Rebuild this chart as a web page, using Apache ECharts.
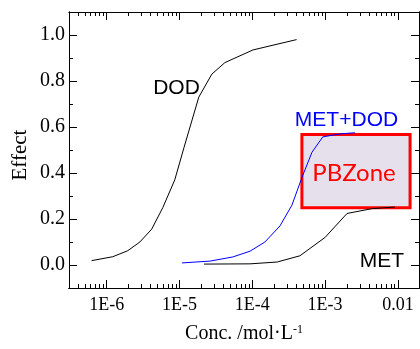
<!DOCTYPE html>
<html><head><meta charset="utf-8">
<script src="https://cdn.jsdelivr.net/npm/echarts@6/dist/echarts.min.js"></script>
<style>html,body{margin:0;padding:0;background:#fff}#c{width:420px;height:349px}</style>
</head><body><div id="c"></div>
<script>
// ---- data (concentration in mol/L, effect) ----
const dodConc   = [6.2e-7, 1.21e-6, 1.94e-6, 2.85e-6, 4.15e-6, 5.9e-6, 8.6e-6, 1.15e-5, 1.84e-5, 2.78e-5, 4.2e-5, 1.02e-4, 4.06e-4];
const dodEffect = [0.019, 0.036, 0.062, 0.10, 0.156, 0.25, 0.37, 0.51, 0.73, 0.83, 0.88, 0.935, 0.98];
const mixConc   = [1.08e-5, 2.63e-5, 5.4e-5, 9.3e-5, 1.49e-4, 2.4e-4, 3.5e-4, 4.8e-4, 6.6e-4, 9.3e-4, 1.6e-3, 2.57e-3];
const mixEffect = [0.009, 0.017, 0.035, 0.06, 0.10, 0.17, 0.26, 0.38, 0.49, 0.557, 0.57, 0.575];
const metConc   = [2.17e-5, 9.3e-5, 2.2e-4, 4.5e-4, 1.0e-3, 2.0e-3, 4.4e-3, 9.1e-3];
const metEffect = [0.004, 0.005, 0.013, 0.04, 0.12, 0.224, 0.245, 0.252];
const pbzoneConc   = [4.8e-4, 0.0147];
const pbzoneEffect = [0.249, 0.567];
// ---- axes ----
const xMin = 3.03e-7, xMax = 0.0195;
const xTickExps   = [-6, -5, -4, -3, -2];
const xTickLabels = ['1E-6', '1E-5', '1E-4', '1E-3', '0.01'];
const yMajor = [0, 0.2, 0.4, 0.6, 0.8, 1.0];
const yTickLabels = ['0.0', '0.2', '0.4', '0.6', '0.8', '1.0'];
const yMinor = [0.1, 0.3, 0.5, 0.7, 0.9];

const lxMin = Math.log10(xMin), lxMax = Math.log10(xMax);
const xMinor = [];
for (let n = -7; n <= -2; n++) for (let k = 2; k <= 9; k++) {
  const v = n + Math.log10(k);
  if (v > lxMin && v < lxMax) xMinor.push(v);
}
const zip = (a, b) => a.map((v, i) => [v, b[i]]);
const serif = '"Liberation Serif","Times New Roman",serif';
const sans = '"Liberation Sans",Arial,sans-serif';
const lineC = '#000';

function tickX(pos, vals, len) {
  return {
    type: 'value', min: lxMin, max: lxMax, position: pos, gridIndex: 0,
    axisLine: {show: true, onZero: false, lineStyle: {color: lineC, width: 1}},
    axisTick: {show: true, inside: true, length: len, customValues: vals, lineStyle: {color: lineC}},
    axisLabel: {show: false}, splitLine: {show: false}
  };
}
function tickY(pos, vals, len) {
  return {
    type: 'value', min: -0.1, max: 1.1, position: pos, gridIndex: 0,
    axisLine: {show: true, onZero: false, lineStyle: {color: lineC, width: 1}},
    axisTick: {show: true, inside: true, length: len, customValues: vals, lineStyle: {color: lineC}},
    axisLabel: {show: false}, splitLine: {show: false}
  };
}

const chart = echarts.init(document.getElementById('c'), null, {renderer: 'canvas'});
chart.setOption({
  animation: false,
  backgroundColor: '#fff',
  textStyle: {fontFamily: serif, color: '#000'},
  grid: {left: 69, top: 12, right: 1, bottom: 61, containLabel: false},
  xAxis: [
    {type: 'log', logBase: 10, min: xMin, max: xMax, position: 'bottom', gridIndex: 0,
     axisLine: {show: true, onZero: false, lineStyle: {color: lineC}},
     axisTick: {show: false}, axisLabel: {show: false}, splitLine: {show: false}, minorTick: {show: false},
     name: '{a|Conc. /mol·L}{b|-1}', nameLocation: 'middle', nameGap: 36,
     nameTextStyle: {rich: {a: {fontFamily: serif, fontSize: 20, color: '#000'},
                            b: {fontFamily: serif, fontSize: 12, color: '#000', verticalAlign: 'top'}}}},
    tickX('bottom', xTickExps, 8),
    tickX('bottom', xMinor, 4),
    tickX('top', xTickExps, 8),
    tickX('top', xMinor, 4)
  ],
  yAxis: [
    Object.assign(tickY('left', yMajor, 8), {name: 'Effect', nameLocation: 'middle', nameGap: 38,
      nameTextStyle: {fontFamily: serif, fontSize: 21, color: '#000', padding: [0, 10, 0, 0]}}),
    tickY('left', yMinor, 4),
    tickY('right', yMajor, 8),
    tickY('right', yMinor, 4)
  ],
  series: [
    {type: 'line', name: 'DOD', xAxisIndex: 0, yAxisIndex: 0, data: zip(dodConc, dodEffect),
     showSymbol: false, symbol: 'none', lineStyle: {color: '#000', width: 1}, z: 3},
    {type: 'line', name: 'MET', xAxisIndex: 0, yAxisIndex: 0, data: zip(metConc, metEffect),
     showSymbol: false, symbol: 'none', lineStyle: {color: '#000', width: 1}, z: 3,
     markArea: {silent: true, z: 1,
       itemStyle: {color: '#e6e0ec', borderColor: '#ff0000', borderWidth: 3},
       label: {show: false},
       data: [[{coord: [pbzoneConc[0], pbzoneEffect[1]]}, {coord: [pbzoneConc[1], pbzoneEffect[0]]}]]}},
    {type: 'line', name: 'MET+DOD', xAxisIndex: 0, yAxisIndex: 0, data: zip(mixConc, mixEffect),
     showSymbol: false, symbol: 'none', lineStyle: {color: '#0000ff', width: 1}, z: 4}
  ]
});

// tick labels placed through the axes' own scales
const yBottom = chart.convertToPixel({yAxisIndex: 0}, -0.1);
const xLeft = chart.convertToPixel({xAxisIndex: 1}, lxMin);
const labels = [];
xTickExps.forEach((e, i) => labels.push({type: 'text', x: chart.convertToPixel({xAxisIndex: 1}, e), y: yBottom + 8,
  style: {text: xTickLabels[i], fill: '#000', font: '18px ' + serif, textAlign: 'center', textVerticalAlign: 'top'}}));
yMajor.forEach((v, i) => labels.push({type: 'text', x: xLeft - 4, y: chart.convertToPixel({yAxisIndex: 0}, v),
  style: {text: yTickLabels[i], fill: '#000', font: '20px ' + serif, textAlign: 'right', textVerticalAlign: 'middle'}}));

chart.setOption({
  graphic: labels.concat([
    {type: 'text', x: 176.5, y: 88, style: {text: 'DOD', fill: '#000', font: '21px ' + sans, textAlign: 'center', textVerticalAlign: 'middle'}, z: 10},
    {type: 'text', x: 346.5, y: 120.5, style: {text: 'MET+DOD', fill: '#0000ff', font: '21px ' + sans, textAlign: 'center', textVerticalAlign: 'middle'}, z: 10},
    {type: 'text', x: 382, y: 261.5, style: {text: 'MET', fill: '#000', font: '21px ' + sans, textAlign: 'center', textVerticalAlign: 'middle'}, z: 10},
    {type: 'text', x: 354, y: 173, style: {text: 'PBZone', fill: '#ff0000', font: '24px Lato, sans-serif', textAlign: 'center', textVerticalAlign: 'middle'}, z: 10}
  ])
});
</script></body></html>
